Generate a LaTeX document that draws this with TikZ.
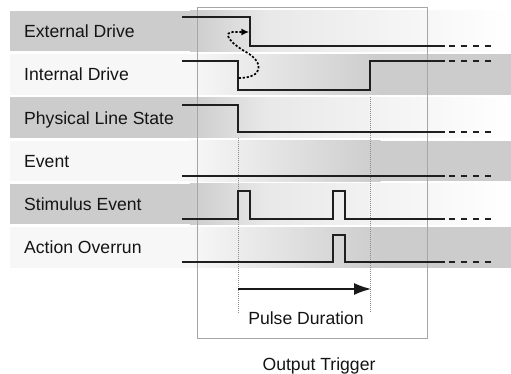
\documentclass[tikz,border=0pt]{standalone}
\usepackage{fontspec}
\setmainfont{Liberation Sans}
\usetikzlibrary{arrows.meta}
\begin{document}
\begin{tikzpicture}[x=1pt,y=-1pt,
  sig/.style={line width=1.4pt, draw=black!88, line join=miter},
  tail/.style={line width=1.8pt, draw=black!88, dash pattern=on 6pt off 6pt},
  lbl/.style={anchor=base west, inner sep=0pt, font=\fontsize{17.6}{20}\selectfont, text=black!92},
  txt/.style={anchor=base, inner sep=0pt, font=\fontsize{17.6}{20}\selectfont, text=black!92},
  guide/.style={draw=black!45, line width=0.9pt, dash pattern=on 1pt off 1pt},
  frame/.style={draw=black!35, line width=0.8pt}]
\useasboundingbox (0,0) rectangle (511,374);
% bands
\foreach \i in {0,2,4} {
  \pgfmathsetmacro\t{11+43.2*\i}
  \pgfmathsetmacro\b{\t+40.5}
  \fill[black!20] (10,\t) rectangle (190.5,\b);
  \shade[left color=black!20,right color=black!9] (190,\t) rectangle (265.5,\b);
  \shade[left color=black!9,right color=white] (265,\t) rectangle (511,\b);
}
\foreach \i in {1,3,5} {
  \pgfmathsetmacro\t{11+43.2*\i}
  \pgfmathsetmacro\b{\t+40.5}
  \fill[black!3] (10,\t) rectangle (190.5,\b);
  \shade[left color=black!3,right color=black!20] (190,\t) rectangle (380.5,\b);
  \fill[black!20] (380,\t) rectangle (511,\b);
}
% frame
\draw[frame] (197,7) rectangle (427,338);
% guides
\draw[guide] (238,138) -- (238,313);
\draw[guide] (370,97) -- (370,313);
% labels
\node[lbl] (l1) at (24,37.7) {External Drive};
\node[lbl] (l2) at (24,81) {Internal Drive};
\node[lbl] (l3) at (24,124.2) {Physical Line State};
\node[lbl] (l4) at (24,167.4) {Event};
\node[lbl] (l5) at (24,210.6) {Stimulus Event};
\node[lbl] (l6) at (24,253.8) {Action Overrun};
% signals
\draw[sig] (182,17) -- (250,17) -- (250,46) -- (445,46);
\draw[tail] (449,46) -- (492,46);
\draw[sig] (182,61) -- (238,61) -- (238,90) -- (370,90) -- (370,61) -- (445,61);
\draw[tail] (449,61) -- (492,61);
\draw[sig] (182,105) -- (238,105) -- (238,132) -- (445,132);
\draw[tail] (449,132) -- (492,132);
\draw[sig] (182,176) -- (445,176);
\draw[tail] (449,176) -- (492,176);
\draw[sig] (182,219) -- (238,219) -- (238,191) -- (250,191) -- (250,219) -- (333,219) -- (333,191) -- (345,191) -- (345,219) -- (445,219);
\draw[tail] (449,219) -- (492,219);
\draw[sig] (182,262) -- (333,262) -- (333,235) -- (345,235) -- (345,262) -- (445,262);
\draw[tail] (449,262) -- (492,262);
% causal dotted arrow
\coordinate (ia) at (238.7,78);
\coordinate (ea) at (249.3,32);
\draw[line width=1.7pt, draw=black, dash pattern=on 2.2pt off 1.8pt, -{Latex[length=8pt,width=7pt]}]
  (ia) .. controls (264,78) and (264,62) .. (246,52) .. controls (230,43) and (220,31) .. (236,32) -- (ea);
% pulse duration
\coordinate (ps) at (238,289);
\coordinate (pe) at (371,289);
\draw[line width=1.4pt, draw=black!90, -{Latex[length=17pt,width=12pt]}] (ps) -- (pe);
\node[txt] (pd) at (306,324) {Pulse Duration};
\node[txt] (ot) at (319,370) {Output Trigger};
\end{tikzpicture}
\end{document}
